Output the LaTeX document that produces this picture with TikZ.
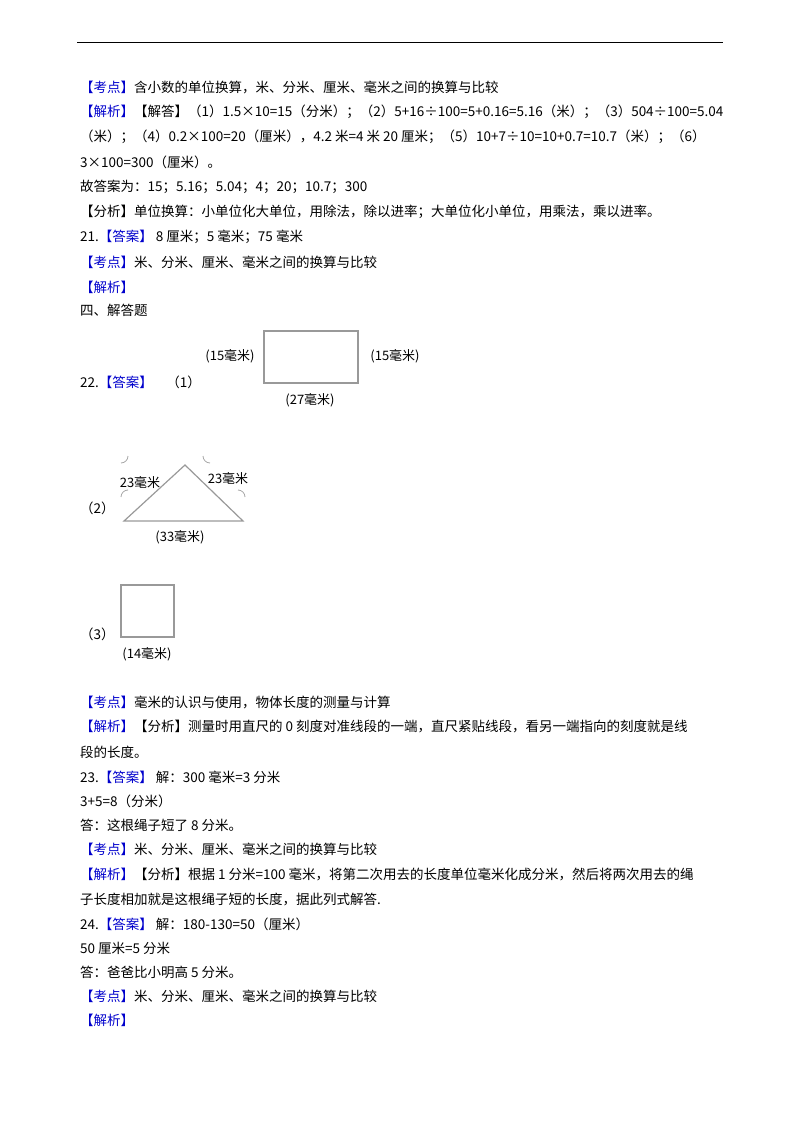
\documentclass[tikz,border=0pt]{standalone}
\usepackage{fontspec}
\setmainfont{Noto Sans CJK SC}
\begin{document}
\begin{tikzpicture}[x=1pt,y=-1pt,
  ln/.style={anchor=west,inner sep=0pt,font=\fontsize{13.5}{15}\selectfont},
  fig/.style={draw=gray!80,line width=1.2pt},
  lab/.style={inner sep=0pt,font=\fontsize{13}{14}\selectfont}]
\useasboundingbox (0,0) rectangle (800,1132);
\def\B#1{\textcolor{blue!80!black}{#1}}
\draw[line width=0.8pt] (77,42) -- (723,42);
\node[ln] (l1) at (80,87) {\B{【考点】}含小数的单位换算，米、分米、厘米、毫米之间的换算与比较};
\node[ln] (l2) at (80,112) {\B{【解析】}【解答】（1）1.5×10=15（分米）；（2）5+16÷100=5+0.16=5.16（米）；（3）504÷100=5.04};
\node[ln] (l3) at (80,137) {（米）；（4）0.2×100=20（厘米），4.2 米=4 米 20 厘米；（5）10+7÷10=10+0.7=10.7（米）；（6）};
\node[ln] (l4) at (80,162) {3×100=300（厘米）。};
\node[ln] (l5) at (80,187) {故答案为：15；5.16；5.04；4；20；10.7；300};
\node[ln] (l6) at (80,212) {【分析】单位换算：小单位化大单位，用除法，除以进率；大单位化小单位，用乘法，乘以进率。};
\node[ln] (l7) at (80,237) {21.\B{【答案】} 8 厘米；5 毫米；75 毫米};
\node[ln] (l8) at (80,262) {\B{【考点】}米、分米、厘米、毫米之间的换算与比较};
\node[ln] (l9) at (80,287) {\B{【解析】}};
\node[ln] (l10) at (80,310) {四、解答题};
\node[ln] (q22) at (80,382) {22.\B{【答案】}\quad （1）};
% figure 1
\draw[fig] (264,331) rectangle (358,383);
\node[lab] (r1) at (230,356) {(15毫米)};
\node[lab] (r2) at (395,356) {(15毫米)};
\node[lab] (r3) at (310,400) {(27毫米)};
% figure 2
\node[ln] (q2) at (80,508) {（2）};
\draw[fig] (124,521) -- (185,465) -- (243,521) -- cycle;
\node[lab] (t1) at (140,482) {23毫米};
\node[lab] (t2) at (228,478) {23毫米};
\draw[gray!70,line width=0.8pt] (121,463) arc (90:0:7);
\draw[gray!70,line width=0.8pt] (121,497) arc (180:270:7);
\draw[gray!70,line width=0.8pt] (210,463) arc (90:180:7);
\draw[gray!70,line width=0.8pt] (245,497) arc (0:-90:7);
\node[lab] (t3) at (180,537) {(33毫米)};
% figure 3
\node[ln] (q3) at (80,634) {（3）};
\draw[fig] (121,585) rectangle (174,637);
\node[lab] (s1) at (147,654) {(14毫米)};
\node[ln] (m1) at (80,702) {\B{【考点】}毫米的认识与使用，物体长度的测量与计算};
\node[ln] (m2) at (80,727) {\B{【解析】}【分析】测量时用直尺的 0 刻度对准线段的一端，直尺紧贴线段，看另一端指向的刻度就是线};
\node[ln] (m3) at (80,752) {段的长度。};
\node[ln] (m4) at (80,777) {23.\B{【答案】} 解：300 毫米=3 分米};
\node[ln] (m5) at (80,801) {3+5=8（分米）};
\node[ln] (m6) at (80,825) {答：这根绳子短了 8 分米。};
\node[ln] (m7) at (80,849) {\B{【考点】}米、分米、厘米、毫米之间的换算与比较};
\node[ln] (m8) at (80,874) {\B{【解析】}【分析】根据 1 分米=100 毫米，将第二次用去的长度单位毫米化成分米，然后将两次用去的绳};
\node[ln] (m9) at (80,899) {子长度相加就是这根绳子短的长度，据此列式解答.};
\node[ln] (m10) at (80,924) {24.\B{【答案】} 解：180-130=50（厘米）};
\node[ln] (m11) at (80,948) {50 厘米=5 分米};
\node[ln] (m12) at (80,972) {答：爸爸比小明高 5 分米。};
\node[ln] (m13) at (80,996) {\B{【考点】}米、分米、厘米、毫米之间的换算与比较};
\node[ln] (m14) at (80,1020) {\B{【解析】}};
\end{tikzpicture}
\end{document}
